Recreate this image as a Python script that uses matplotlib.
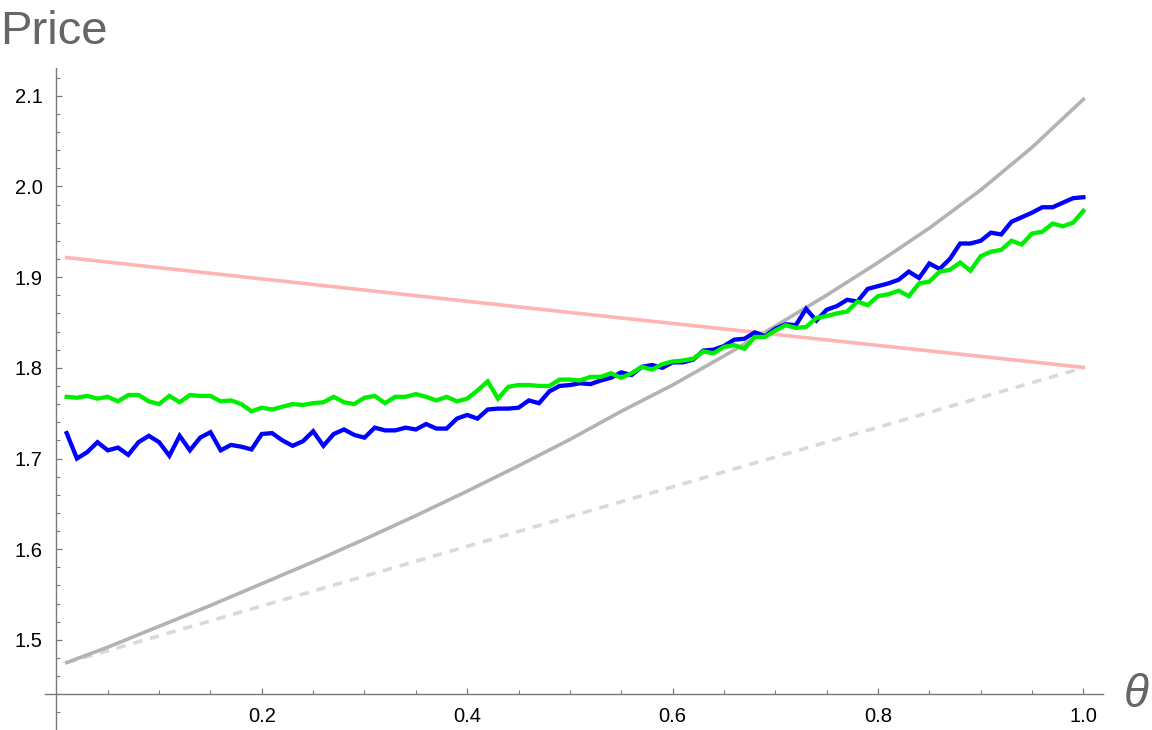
import numpy as np
import matplotlib
matplotlib.use("Agg")
import matplotlib.pyplot as plt
from matplotlib.ticker import FixedLocator, FormatStrFormatter

plt.rcParams['font.family'] = ['Liberation Sans', 'DejaVu Sans']

# ---- data ----
theta = [round(0.01 * i, 2) for i in range(1, 101)]

blue = [1.728, 1.700, 1.707, 1.718, 1.709, 1.712, 1.704, 1.718, 1.725, 1.718,
        1.703, 1.725, 1.709, 1.723, 1.729, 1.709, 1.715, 1.713, 1.710, 1.727,
        1.728, 1.720, 1.714, 1.719, 1.730, 1.714, 1.727, 1.732, 1.726, 1.723,
        1.734, 1.731, 1.731, 1.734, 1.732, 1.738, 1.733, 1.733, 1.744, 1.748,
        1.744, 1.754, 1.755, 1.755, 1.756, 1.764, 1.761, 1.774, 1.780, 1.781,
        1.783, 1.782, 1.786, 1.789, 1.795, 1.792, 1.801, 1.803, 1.800, 1.806,
        1.806, 1.809, 1.819, 1.820, 1.824, 1.831, 1.832, 1.839, 1.835, 1.843,
        1.848, 1.847, 1.865, 1.852, 1.864, 1.868, 1.875, 1.873, 1.887, 1.890,
        1.893, 1.897, 1.906, 1.899, 1.915, 1.909, 1.920, 1.937, 1.937, 1.940,
        1.949, 1.947, 1.961, 1.966, 1.971, 1.977, 1.977, 1.982, 1.987, 1.988]

green = [1.768, 1.767, 1.769, 1.766, 1.768, 1.763, 1.770, 1.770, 1.763, 1.760,
         1.769, 1.762, 1.770, 1.769, 1.769, 1.763, 1.764, 1.760, 1.752, 1.756,
         1.754, 1.757, 1.760, 1.759, 1.761, 1.762, 1.768, 1.762, 1.760, 1.767,
         1.769, 1.761, 1.768, 1.768, 1.771, 1.768, 1.764, 1.768, 1.763, 1.766,
         1.775, 1.785, 1.766, 1.779, 1.781, 1.781, 1.780, 1.780, 1.787, 1.787,
         1.786, 1.790, 1.790, 1.794, 1.789, 1.794, 1.801, 1.798, 1.804, 1.807,
         1.808, 1.810, 1.818, 1.816, 1.823, 1.825, 1.821, 1.834, 1.834, 1.841,
         1.847, 1.844, 1.845, 1.855, 1.857, 1.860, 1.862, 1.873, 1.869, 1.879,
         1.881, 1.885, 1.879, 1.893, 1.895, 1.906, 1.908, 1.916, 1.907, 1.923,
         1.928, 1.930, 1.940, 1.936, 1.948, 1.950, 1.959, 1.956, 1.960, 1.973]

theta_curve = [0.01, 0.05, 0.10, 0.15, 0.20, 0.25, 0.30, 0.35, 0.40, 0.45, 0.50,
               0.55, 0.60, 0.65, 0.70, 0.75, 0.80, 0.85, 0.90, 0.95, 1.00]
gray_curve = [1.475, 1.492, 1.515, 1.538, 1.562, 1.586, 1.611, 1.637, 1.664, 1.692, 1.721,
              1.752, 1.781, 1.813, 1.846, 1.880, 1.916, 1.954, 1.996, 2.043, 2.096]

theta_lin = [0.01, 0.50, 1.00]
pink_line = [1.9215, 1.861, 1.8005]
dashed_line = [1.475, 1.636, 1.800]

x_ticks = [0.2, 0.4, 0.6, 0.8, 1.0]
y_ticks = [1.5, 1.6, 1.7, 1.8, 1.9, 2.0, 2.1]

# ---- figure ----
W, H = 1152, 730
fig = plt.figure(figsize=(W / 100, H / 100), dpi=100)
left_px, right_px, top_px, bot_px = 45, 1103, 68, 730
ax = fig.add_axes([left_px / W, 1 - bot_px / H, (right_px - left_px) / W, (bot_px - top_px) / H])

ax.plot(theta_lin, dashed_line, color='#d9d9d9', lw=2.6, dashes=(2.6, 2.2), solid_capstyle='butt')
ax.plot(theta_curve, gray_curve, color='#b3b3b3', lw=2.6)
ax.plot(theta_lin, pink_line, color='#ffb3b3', lw=2.6)
ax.plot(theta, blue, color='#0000ff', lw=3.1, solid_joinstyle='miter')
ax.plot(theta, green, color='#00ee00', lw=3.1, solid_joinstyle='miter')

ax.set_xlim(-0.0111, 1.0191)
ax.set_ylim(1.4007, 2.1305)

axis_col = '#7a7a7a'
for s in ['top', 'right']:
    ax.spines[s].set_visible(False)
ax.spines['left'].set_position(('data', 0.0))
ax.spines['bottom'].set_position(('data', 1.44))
for s in ['left', 'bottom']:
    ax.spines[s].set_color(axis_col)
    ax.spines[s].set_linewidth(1.0)

ax.xaxis.set_major_locator(FixedLocator(x_ticks))
ax.xaxis.set_minor_locator(FixedLocator([0.05, 0.1, 0.15, 0.25, 0.3, 0.35, 0.45, 0.5, 0.55,
                                         0.65, 0.7, 0.75, 0.85, 0.9, 0.95]))
ax.yaxis.set_major_locator(FixedLocator(y_ticks))
ax.yaxis.set_minor_locator(FixedLocator([v / 100 for v in range(142, 214, 2) if v % 10 != 0]))
ax.xaxis.set_major_formatter(FormatStrFormatter('%.1f'))
ax.yaxis.set_major_formatter(FormatStrFormatter('%.1f'))

ax.tick_params(which='major', direction='in', length=4.5, width=0.9, color=axis_col,
               labelsize=14.5, labelcolor='black')
ax.tick_params(axis='y', which='major', pad=10)
ax.tick_params(axis='x', which='major', pad=9)
ax.tick_params(which='minor', direction='in', length=2.8, width=0.8, color=axis_col)

fig.text(0.0, 1 - 44 / H, 'Price', fontsize=34, color='#666666', ha='left', va='baseline')
fig.text(1136 / W, 1 - 695 / H, 'θ', fontsize=33, color='#666666', style='italic',
         ha='center', va='center')

fig.savefig('out.png', dpi=100)
